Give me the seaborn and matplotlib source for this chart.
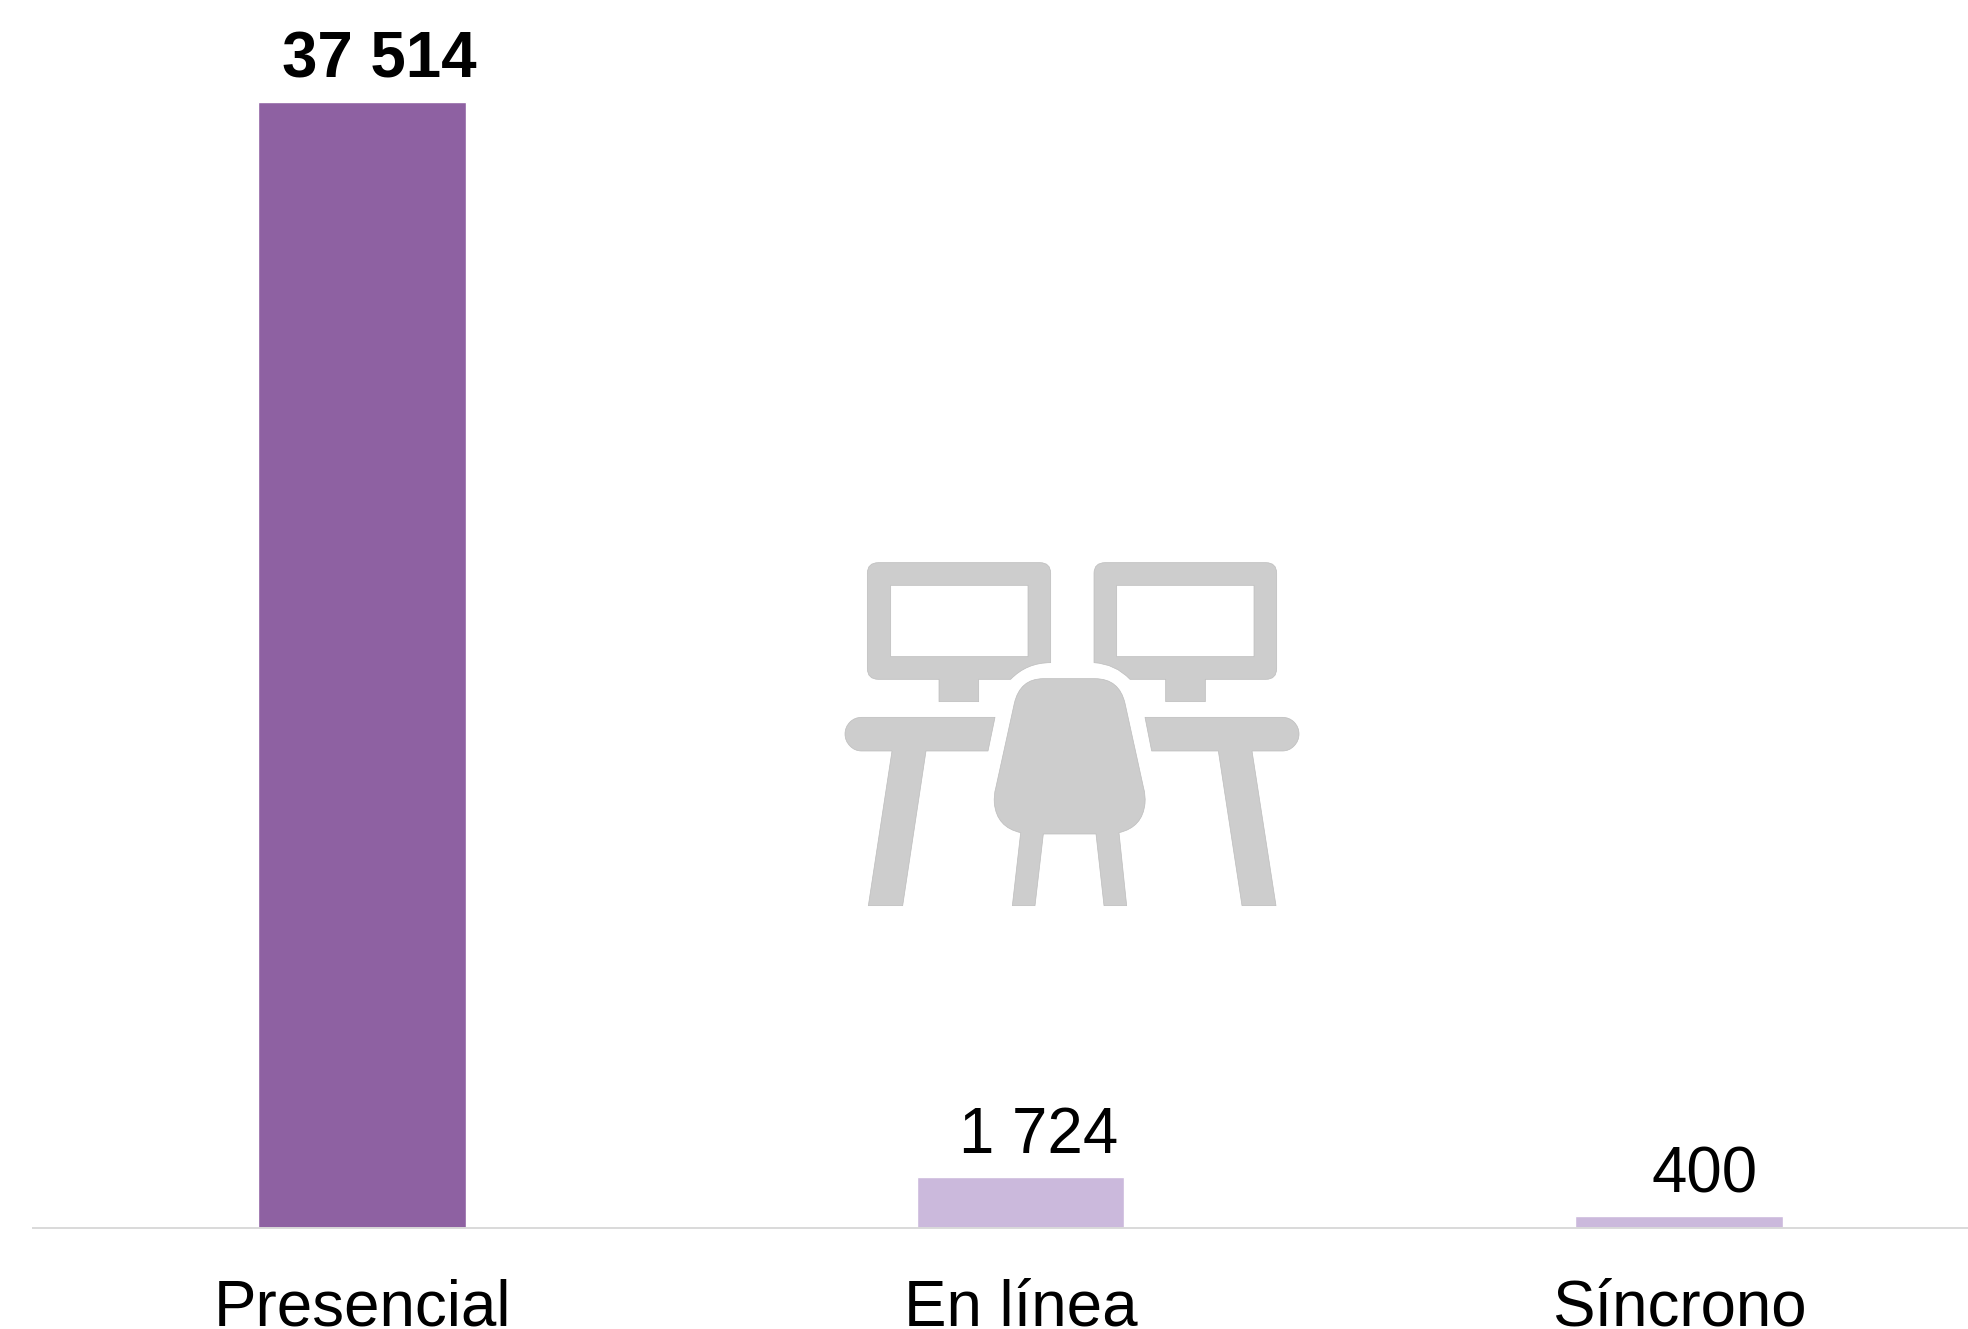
import pandas as pd
import seaborn as sns
import matplotlib.pyplot as plt
from matplotlib.path import Path
from matplotlib.patches import PathPatch

categorias = ["Presencial", "En línea", "Síncrono"]
valores = [37514, 1724, 400]
etiquetas = ["37 514", "1 724", "400"]
colores = ["#8E61A2", "#CBB9DC", "#CBB9DC"]

M, L, Q, Z = Path.MOVETO, Path.LINETO, Path.CURVE3, Path.CLOSEPOLY


def build_path(segments):
    # segments: list of (code, point) or (Q, control, end)
    verts, codes = [], []
    for seg in segments:
        if seg[0] == Q:
            verts += [seg[1], seg[2]]
            codes += [Q, Q]
        else:
            verts.append(seg[1])
            codes.append(seg[0])
    return verts, codes


def draw_icon(ax):
    monitor_left = [
        (M, (145, 68)), (L, (630, 68)), (Q, (662, 68), (662, 100)), (L, (662, 368)),
        (Q, (590, 368), (542, 418)), (L, (446, 418)), (L, (446, 485)), (L, (327, 485)),
        (L, (327, 418)), (L, (145, 418)), (Q, (112, 418), (112, 385)), (L, (112, 100)),
        (Q, (112, 68), (145, 68)), (Z, (145, 68)),
        (M, (182, 136)), (L, (182, 350)), (L, (594, 350)), (L, (594, 136)), (Z, (182, 136)),
    ]
    monitor_right = [
        (M, (825, 68)), (L, (1308, 68)), (Q, (1340, 68), (1340, 100)), (L, (1340, 385)),
        (Q, (1340, 418), (1308, 418)), (L, (1126, 418)), (L, (1126, 485)), (L, (1007, 485)),
        (L, (1007, 418)), (L, (900, 418)), (Q, (856, 372), (792, 368)), (L, (792, 100)),
        (Q, (792, 68), (825, 68)), (Z, (825, 68)),
        (M, (860, 136)), (L, (860, 350)), (L, (1272, 350)), (L, (1272, 136)), (Z, (860, 136)),
    ]
    table_left = [
        (M, (95, 532)), (L, (495, 532)), (L, (474, 633)), (L, (288, 633)), (L, (218, 1097)),
        (L, (115, 1097)), (L, (186, 633)), (L, (95, 633)),
        (Q, (74, 633), (60, 618)), (Q, (45, 603), (45, 582)),
        (Q, (45, 561), (60, 546)), (Q, (74, 532), (95, 532)), (Z, (95, 532)),
    ]
    table_right = [
        (M, (945, 532)), (L, (1357, 532)),
        (Q, (1378, 532), (1392, 546)), (Q, (1407, 561), (1407, 582)),
        (Q, (1407, 603), (1392, 618)), (Q, (1378, 633), (1357, 633)),
        (L, (1266, 633)), (L, (1338, 1097)), (L, (1236, 1097)),
        (L, (1165, 633)), (L, (965, 633)), (Z, (945, 532)),
    ]
    chair = [
        (M, (640, 416)), (L, (795, 416)), (Q, (868, 416), (885, 490)), (L, (941, 745)),
        (Q, (947, 765), (945, 790)), (Q, (938, 862), (867, 878)), (L, (890, 1097)),
        (L, (822, 1097)), (L, (798, 882)), (L, (640, 882)), (L, (615, 1097)), (L, (547, 1097)),
        (L, (572, 878)), (Q, (500, 862), (493, 790)), (Q, (491, 765), (497, 745)),
        (L, (553, 490)), (Q, (570, 416), (640, 416)), (Z, (640, 416)),
    ]
    for shape in [monitor_left, monitor_right, table_left, table_right, chair]:
        verts, codes = build_path(shape)
        ax.add_patch(PathPatch(Path(verts, codes), facecolor="#CDCDCD", edgecolor="#BDBDBD", lw=0.5))


sns.set_style("white")
plt.rcParams["font.family"] = ["Liberation Sans", "DejaVu Sans"]

W, H = 1968, 1329
fig = plt.figure(figsize=((W + 0.01) / 100, (H + 0.01) / 100), dpi=100)
ax = fig.add_axes([33 / W, (H - 1228.5) / H, (W - 33) / W, 1228.5 / H])

df = pd.DataFrame({"modalidad": categorias, "total": valores})
sns.barplot(data=df, x="modalidad", y="total", hue="modalidad", palette=colores,
            width=0.315, legend=False, saturation=1, ax=ax)

ax.set_xlim(-0.5, 2.439)
ax.set_ylim(0, 40910)
ax.set_xlabel("")
ax.set_ylabel("")
ax.set_yticks([])
sns.despine(ax=ax, left=True)
ax.spines["bottom"].set_color("#D9D9D9")
ax.spines["bottom"].set_linewidth(1.4)
ax.tick_params(axis="x", length=0, pad=36.3, labelsize=45.8, labelcolor="black")

# value labels sit to the right of each bar centre
desplaz = [17, 18, 26]
pesos = ["bold", "normal", "normal"]
for i, valor in enumerate(valores):
    ax.annotate(etiquetas[i], (i, valor), xytext=(desplaz[i], 24), textcoords="offset pixels",
                ha="center", va="baseline", fontsize=45.8, fontweight=pesos[i], color="black")

# pictogram, coordinates taken from a 3x crop of the icon area
icon_ax = fig.add_axes([830 / W, (H - 930) / H, 500 / W, 390 / H])
icon_ax.set_xlim(0, 1500)
icon_ax.set_ylim(1170, 0)
icon_ax.axis("off")
draw_icon(icon_ax)

fig.savefig("out.png", dpi=100)
